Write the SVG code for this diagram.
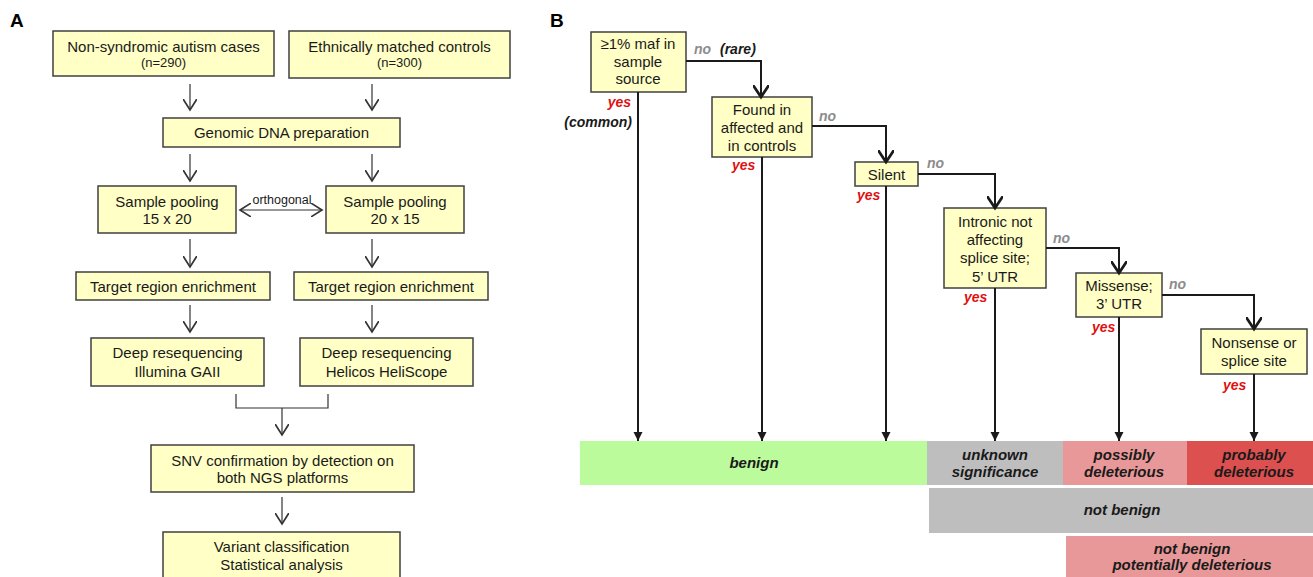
<svg xmlns="http://www.w3.org/2000/svg" width="1313" height="577" viewBox="0 0 1313 577">
<style>
text{font-family:"Liberation Sans",Arial,sans-serif;fill:#1a1a1a}
.panel{font-size:19px;font-weight:bold;fill:#000}
.box{fill:#ffffc6;stroke:#404040;stroke-width:1.5}
.t{font-size:15px;text-anchor:middle}
.s{font-size:13px;text-anchor:middle}
.o{font-size:12.5px;text-anchor:middle}
.ca{fill:none;stroke:#333;stroke-width:1.2}
.cb{fill:none;stroke:#1a1a1a;stroke-width:2}
.no{font-size:14px;font-weight:bold;font-style:italic;fill:#8c8c8c}
.yes{font-size:14px;font-weight:bold;font-style:italic;fill:#e01010}
.bi{font-size:14px;font-weight:bold;font-style:italic;fill:#1a1a1a}
.bar{font-size:15px;font-weight:bold;font-style:italic;text-anchor:middle;fill:#1a1a1a}
</style>
<defs>
<marker id="ma" markerUnits="userSpaceOnUse" markerWidth="14" markerHeight="14" refX="8" refY="5" orient="auto-start-reverse" viewBox="0 0 10 10">
<path d="M0,0 L8,5 L0,10" fill="none" stroke="#333" stroke-width="1.2"/>
</marker>
<marker id="mb" markerUnits="userSpaceOnUse" markerWidth="16" markerHeight="16" refX="9" refY="6" orient="auto" viewBox="0 0 12 12">
<path d="M0,0 L9,6 L0,12" fill="none" stroke="#1a1a1a" stroke-width="2"/>
</marker>
<marker id="mf" markerUnits="userSpaceOnUse" markerWidth="10" markerHeight="10" refX="9" refY="4.5" orient="auto" viewBox="0 0 10 9">
<path d="M0,0 L9,4.5 L0,9 Z" fill="#1a1a1a"/>
</marker>
</defs>

<text class="panel" x="10" y="27">A</text>
<text class="panel" x="550" y="27">B</text>

<!-- Panel A nodes -->
<g id="a-cases"><rect class="box" x="53" y="31" width="221" height="45"/><text class="t" x="163.5" y="52">Non-syndromic autism cases</text><text class="s" x="163.5" y="67">(n=290)</text></g>
<g id="a-controls"><rect class="box" x="289" y="31" width="221" height="47"/><text class="t" x="399.5" y="52">Ethnically matched controls</text><text class="s" x="399.5" y="67">(n=300)</text></g>
<g id="a-dna"><rect class="box" x="163" y="118" width="237" height="29"/><text class="t" x="281.5" y="138">Genomic DNA preparation</text></g>
<g id="a-pool1"><rect class="box" x="98" y="186" width="138" height="47"/><text class="t" x="167" y="207">Sample pooling</text><text class="t" x="167" y="224">15 x 20</text></g>
<g id="a-pool2"><rect class="box" x="326" y="186" width="138" height="47"/><text class="t" x="395" y="207">Sample pooling</text><text class="t" x="395" y="224">20 x 15</text></g>
<g id="a-enrich1"><rect class="box" x="76" y="272" width="194" height="28"/><text class="t" x="173" y="292">Target region enrichment</text></g>
<g id="a-enrich2"><rect class="box" x="294" y="272" width="194" height="28"/><text class="t" x="391" y="292">Target region enrichment</text></g>
<g id="a-seq1"><rect class="box" x="91" y="338" width="173" height="48"/><text class="t" x="177.5" y="358">Deep resequencing</text><text class="t" x="177.5" y="377">Illumina GAII</text></g>
<g id="a-seq2"><rect class="box" x="300" y="338" width="173" height="48"/><text class="t" x="386.5" y="358">Deep resequencing</text><text class="t" x="386.5" y="377">Helicos HeliScope</text></g>
<g id="a-snv"><rect class="box" x="151" y="445" width="263" height="47"/><text class="t" x="282.5" y="466">SNV confirmation by detection on</text><text class="t" x="282.5" y="483">both NGS platforms</text></g>
<g id="a-variant"><rect class="box" x="163" y="532" width="237" height="50"/><text class="t" x="281.5" y="552">Variant classification</text><text class="t" x="281.5" y="570">Statistical analysis</text></g>

<!-- Panel A connectors -->
<g id="a-connectors">
<path class="ca" marker-end="url(#ma)" d="M190,84 V110"/>
<path class="ca" marker-end="url(#ma)" d="M372,84 V110"/>
<path class="ca" marker-end="url(#ma)" d="M190,154 V181"/>
<path class="ca" marker-end="url(#ma)" d="M372,154 V181"/>
<path class="ca" marker-start="url(#ma)" marker-end="url(#ma)" d="M240,210 H322"/>
<path class="ca" marker-end="url(#ma)" d="M190,239 V267"/>
<path class="ca" marker-end="url(#ma)" d="M372,239 V267"/>
<path class="ca" marker-end="url(#ma)" d="M190,305 V332"/>
<path class="ca" marker-end="url(#ma)" d="M372,305 V332"/>
<path class="ca" d="M236,394 V408 H328 V394"/>
<path class="ca" marker-end="url(#ma)" d="M282,408 V435"/>
<path class="ca" marker-end="url(#ma)" d="M282,497 V524"/>
<text class="o" x="282" y="204">orthogonal</text>
</g>

<!-- Panel B category bars -->
<g id="b-benign"><rect x="580" y="441" width="347" height="44" fill="#bbfb9c"/><text class="bar" x="754" y="468">benign</text></g>
<g id="b-unknown"><rect x="927" y="441" width="136" height="44" fill="#bebebe"/><text class="bar" x="995" y="460">unknown</text><text class="bar" x="995" y="477">significance</text></g>
<g id="b-possibly"><rect x="1063" y="441" width="124" height="44" fill="#e89898"/><text class="bar" x="1124" y="460">possibly</text><text class="bar" x="1124" y="477">deleterious</text></g>
<g id="b-probably"><rect x="1187" y="441" width="126" height="44" fill="#dc5050"/><text class="bar" x="1254" y="460">probably</text><text class="bar" x="1254" y="477">deleterious</text></g>
<g id="b-notbenign"><rect x="929" y="488" width="384" height="45" fill="#bebebe"/><text class="bar" x="1122" y="515">not benign</text></g>
<g id="b-potential"><rect x="1066" y="536" width="247" height="45" fill="#e89898"/><text class="bar" x="1192" y="554">not benign</text><text class="bar" x="1192" y="570">potentially deleterious</text></g>

<!-- Panel B nodes -->
<g id="b-maf"><rect class="box" x="591" y="32" width="95" height="60"/><text class="t" x="638" y="49">≥1% maf in</text><text class="t" x="638" y="67">sample</text><text class="t" x="638" y="84">source</text></g>
<g id="b-found"><rect class="box" x="712" y="97" width="100" height="60"/><text class="t" x="762" y="115">Found in</text><text class="t" x="762" y="133">affected and</text><text class="t" x="762" y="151">in controls</text></g>
<g id="b-silent"><rect class="box" x="855" y="162" width="63" height="24"/><text class="t" x="886.5" y="180">Silent</text></g>
<g id="b-intronic"><rect class="box" x="944" y="208" width="102" height="80"/><text class="t" x="995" y="227">Intronic not</text><text class="t" x="995" y="245">affecting</text><text class="t" x="995" y="263">splice site;</text><text class="t" x="995" y="282">5’ UTR</text></g>
<g id="b-missense"><rect class="box" x="1076" y="273" width="86" height="44"/><text class="t" x="1119" y="291">Missense;</text><text class="t" x="1119" y="309">3’ UTR</text></g>
<g id="b-nonsense"><rect class="box" x="1201" y="329" width="106" height="45"/><text class="t" x="1254" y="348">Nonsense or</text><text class="t" x="1254" y="366">splice site</text></g>

<!-- Panel B connectors -->
<g id="b-connectors">
<path class="cb" marker-end="url(#mb)" d="M686,61 H761 V97"/>
<path class="cb" marker-end="url(#mb)" d="M812,126 H886 V162"/>
<path class="cb" marker-end="url(#mb)" d="M918,174 H995 V208"/>
<path class="cb" marker-end="url(#mb)" d="M1046,248 H1119 V273"/>
<path class="cb" marker-end="url(#mb)" d="M1162,295 H1254 V329"/>
<path class="cb" marker-end="url(#mf)" d="M638,92 V441"/>
<path class="cb" marker-end="url(#mf)" d="M762,157 V441"/>
<path class="cb" marker-end="url(#mf)" d="M886,186 V441"/>
<path class="cb" marker-end="url(#mf)" d="M995,288 V441"/>
<path class="cb" marker-end="url(#mf)" d="M1119,317 V441"/>
<path class="cb" marker-end="url(#mf)" d="M1254,374 V441"/>
<text class="no" x="694" y="54">no</text>
<text class="bi" x="720" y="54">(rare)</text>
<text class="yes" x="631" y="107" text-anchor="end">yes</text>
<text class="bi" x="632" y="127" text-anchor="end">(common)</text>
<text class="no" x="819" y="121">no</text>
<text class="yes" x="732" y="170">yes</text>
<text class="no" x="927" y="168">no</text>
<text class="yes" x="857" y="200">yes</text>
<text class="no" x="1053" y="243">no</text>
<text class="yes" x="964" y="302">yes</text>
<text class="no" x="1169" y="289">no</text>
<text class="yes" x="1092" y="332">yes</text>
<text class="yes" x="1223" y="390">yes</text>
</g>
</svg>
